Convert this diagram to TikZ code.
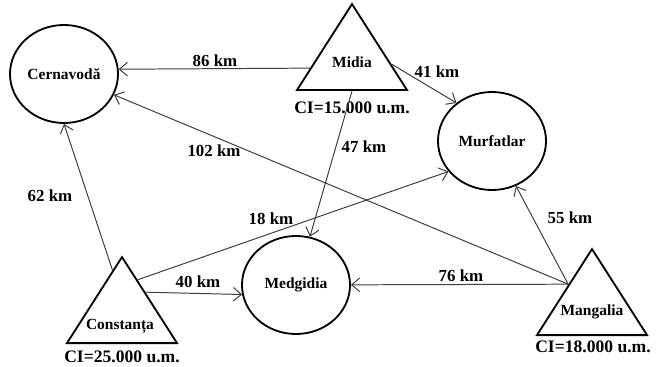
\documentclass[tikz,border=0pt]{standalone}
\usepackage{fontspec}
\setmainfont{Liberation Serif}
\usetikzlibrary{arrows.meta,calc,shapes.geometric}
\definecolor{RoadGray}{HTML}{3C3C3C}

\begin{document}
\begin{tikzpicture}[x=0.025cm,y=-0.025cm,
      town/.style={ellipse,draw,line width=1.3pt,minimum width=2.7cm,
                   minimum height=2.45cm,inner sep=0pt,
                   font=\bfseries\fontsize{11}{13}\selectfont},
      port/.style={isosceles triangle,isosceles triangle stretches,
                   shape border rotate=90,draw,line width=1.3pt,
                   minimum width=2.75cm,minimum height=2.15cm,inner sep=0pt,
                   anchor=lower side},
      pname/.style={font=\bfseries\fontsize{11}{13}\selectfont},
      cost/.style={font=\bfseries\fontsize{12.5}{14}\selectfont},
      dist/.style={font=\bfseries\fontsize{12}{14}\selectfont,inner sep=1pt},
      road/.style={draw=RoadGray,line width=0.7pt,
                   -{Straight Barb[length=2mm,width=3.4mm]}},
    ]
    \useasboundingbox (0,0) rectangle (664,367);

    % towns
    \node[town] (cern) at (64,74)  {Cernavodă};
    \node[town] (murf) at (492,141) {Murfatlar};
    \node[town] (medg) at (296,285) {Medgidia};

    % ports
    \node[port] (midia) at (352,91)  {};
    \node[port] (const) at (122,344) {};
    \node[port] (mang)  at (592,336) {};
    \node[pname] (midiaN) at (352,62)  {Midia};
    \node[pname] (constN) at (120,326) {Constanța};
    \node[pname] (mangN)  at (592,312) {Mangalia};
    \node[cost] (midiaC) at (352,108) {CI=15.000 u.m.};
    \node[cost] (constC) at (122,357) {CI=25.000 u.m.};
    \node[cost] (mangC)  at (593,347) {CI=18.000 u.m.};

    % start points on the triangle sides
    \coordinate (midW)   at ($(midia.apex)!0.744!(midia.left corner)$);
    \coordinate (midE)   at ($(midia.apex)!0.70!(midia.right corner)$);
    \coordinate (constW) at ($(const.apex)!0.17!(const.left corner)$);
    \coordinate (constE) at ($(const.apex)!0.28!(const.right corner)$);
    \coordinate (constS) at ($(const.apex)!0.42!(const.right corner)$);
    \coordinate (mangW)  at ($(mang.apex)!0.42!(mang.left corner)$);

    % roads
    \draw[road] (midW) -- (cern.5);
    \draw[road] (midE) -- (murf.133);
    \draw[road] (midia.lower side) -- (medg);
    \draw[road] (mangW) -- (cern);
    \draw[road] (constW) -- (cern.south);
    \draw[road] (constE) -- (murf.215);
    \draw[road] (constS) -- (medg.190);
    \draw[road] (mangW) -- (medg);
    \draw[road] (mangW) -- (murf);

    % distances
    \node[dist] (d86)  at (215,61)  {86 km};
    \node[dist] (d41)  at (437,72)  {41 km};
    \node[dist] (d47)  at (364,147) {47 km};
    \node[dist] (d102) at (214,151) {102 km};
    \node[dist] (d62)  at (50,196)  {62 km};
    \node[dist] (d18)  at (271,219) {18 km};
    \node[dist] (d40)  at (198,282) {40 km};
    \node[dist] (d76)  at (461,276) {76 km};
    \node[dist] (d55)  at (570,218) {55 km};
\end{tikzpicture}
\end{document}
